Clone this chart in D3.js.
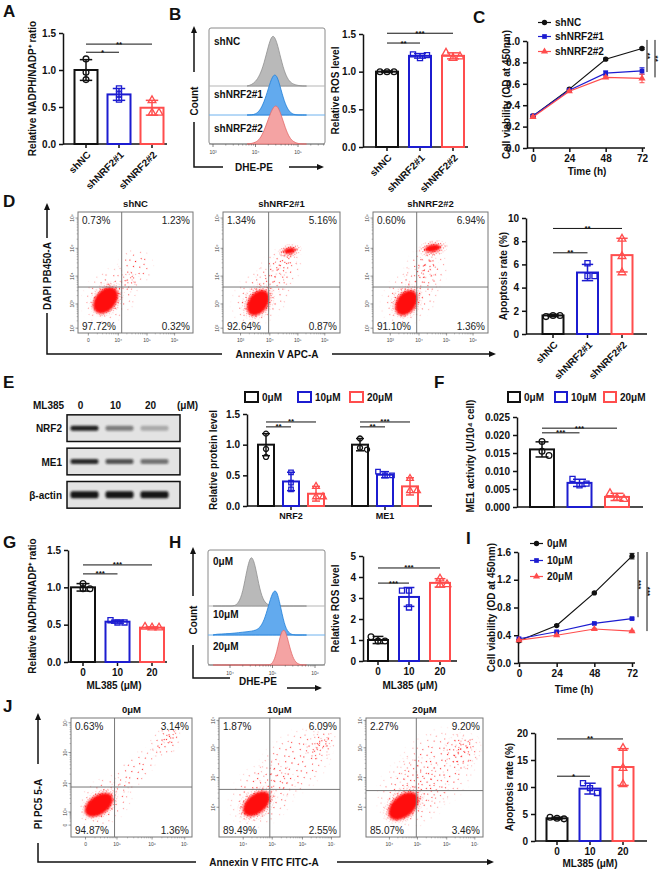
<!DOCTYPE html>
<html>
<head>
<meta charset="utf-8">
<script src="https://cdn.jsdelivr.net/npm/d3@7"></script>
<style>
body { margin: 0; background: #fff; }
</style>
</head>
<body>
<script>
// ---------- data ----------
const shGroups = ["shNC", "shNRF2#1", "shNRF2#2"];
const doseGroups = ["0", "10", "20"];
const doseNames = ["0μM", "10μM", "20μM"];
const timePoints = [0, 24, 48, 72];

// A: NADPH/NADP+ (shRNA)
const nadphShMean = [1.00, 0.67, 0.49];
const nadphShSD = [0.14, 0.08, 0.10];
const nadphShPts = [[1.15, 0.97, 0.87], [0.75, 0.67, 0.60], [0.59, 0.42, 0.42]];

// B: DHE histograms (log decades) + ROS bars
const histBinsB = [3.8, 3.9, 4.0, 4.1, 4.2, 4.3, 4.4, 4.5, 4.6, 4.7, 4.8, 4.9, 5.0, 5.1, 5.2];
const histShNC = [0, 0.02, 0.08, 0.2, 0.42, 0.75, 1.0, 0.85, 0.5, 0.22, 0.08, 0.03, 0.01, 0, 0];
const histSh1 = [0, 0, 0.02, 0.1, 0.3, 0.62, 0.95, 0.98, 0.6, 0.25, 0.07, 0.01, 0, 0, 0];
const histSh2 = [0, 0.01, 0.04, 0.12, 0.32, 0.62, 0.9, 1.0, 0.75, 0.4, 0.15, 0.05, 0.01, 0, 0];
const rosShMean = [1.00, 1.21, 1.21];
const rosShSD = [0.01, 0.03, 0.04];
const rosShPts = [[1.00, 1.00, 1.00], [1.23, 1.18, 1.22], [1.25, 1.18, 1.20]];

// C: viability (shRNA)
const viabShNC = [0.30, 0.55, 0.83, 0.93];
const viabShNCSD = [0.01, 0.01, 0.01, 0.01];
const viabSh1 = [0.30, 0.54, 0.70, 0.72];
const viabSh1SD = [0.01, 0.01, 0.02, 0.03];
const viabSh2 = [0.29, 0.53, 0.66, 0.65];
const viabSh2SD = [0.01, 0.01, 0.01, 0.04];

// D: apoptosis flow (channel units 0-100) + bars
const flowDPercents = [["0.73%", "1.23%", "97.72%", "0.32%"], ["1.34%", "5.16%", "92.64%", "0.87%"], ["0.60%", "6.94%", "91.10%", "1.36%"]];
const flowDGates = [[38, 38], [39, 38], [38, 38]];
// clouds: [x, y, rx, ry, angle, density] density 0 = solid core, 1 dense, 2 medium, 3 sparse
const flowD1 = [[28, 31, 30, 22, 45, 3], [25, 28, 18, 13, 50, 1], [24, 27, 13, 8.5, 50, 0], [50, 55, 17, 16, 45, 3], [44, 42, 11, 9, 45, 2]];
const flowD2 = [[33, 31, 32, 22, 45, 3], [30, 26, 18, 13, 55, 1], [30, 25, 12, 8, 55, 0], [48, 52, 24, 17, 45, 3], [52, 58, 14, 10, 45, 2], [57, 68, 11, 6, 10, 1], [57, 68, 5, 2.5, 10, 0]];
const flowD3 = [[33, 31, 32, 22, 45, 3], [29, 26, 17, 13, 55, 1], [29, 25, 12, 8, 55, 0], [46, 52, 22, 19, 60, 3], [47, 55, 12, 10, 60, 2], [52, 70, 14, 7, 10, 1], [52, 70, 7, 3, 10, 0]];
const apoShMean = [1.6, 5.3, 6.8];
const apoShSD = [0.1, 0.7, 1.45];
const apoShPts = [[1.5, 1.6, 1.6], [6.1, 5.0, 5.0], [8.2, 6.7, 5.3]];

// E: western blot + quantification
const blotProteins = ["NRF2", "ME1", "β-actin"];
const blotNRF2 = [0.95, 0.5, 0.28];
const blotME1 = [0.9, 0.7, 0.55];
const blotActin = [1.0, 1.0, 1.0];
const proteinGroups = ["NRF2", "ME1"];
const protNRF2Mean = [1.00, 0.40, 0.20];
const protNRF2SD = [0.18, 0.15, 0.12];
const protNRF2Pts = [[1.18, 0.93, 0.80], [0.55, 0.38, 0.27], [0.32, 0.15, 0.15]];
const protME1Mean = [1.00, 0.51, 0.32];
const protME1SD = [0.10, 0.05, 0.14];
const protME1Pts = [[1.10, 0.95, 0.92], [0.56, 0.50, 0.50], [0.45, 0.25, 0.25]];

// F: ME1 activity
const me1Mean = [0.0160, 0.0067, 0.0028];
const me1SD = [0.0021, 0.0010, 0.0010];
const me1Pts = [[0.0182, 0.0155, 0.0143], [0.0078, 0.0060, 0.0065], [0.0038, 0.0025, 0.0022]];

// G: NADPH/NADP+ (ML385)
const nadphDoseMean = [1.00, 0.54, 0.46];
const nadphDoseSD = [0.05, 0.02, 0.01];
const nadphDosePts = [[1.05, 0.98, 0.98], [0.56, 0.53, 0.53], [0.47, 0.46, 0.46]];

// H: DHE histograms + ROS bars (ML385)
const histBinsH = [3.6, 3.7, 3.8, 3.9, 4.0, 4.1, 4.2, 4.3, 4.4, 4.5, 4.6, 4.7, 4.8, 4.9, 5.0, 5.1, 5.2, 5.3, 5.4, 5.5, 5.6, 5.7, 5.8];
const hist0 = [0, 0, 0, 0, 0, 0, 0.05, 0.25, 0.7, 1.0, 0.75, 0.3, 0.08, 0.02, 0, 0, 0, 0, 0, 0, 0, 0, 0];
const hist10 = [0, 0.02, 0.02, 0.03, 0.03, 0.04, 0.05, 0.06, 0.07, 0.08, 0.1, 0.15, 0.3, 0.6, 0.92, 0.98, 0.55, 0.15, 0.03, 0, 0, 0, 0];
const hist20 = [0, 0, 0, 0, 0, 0, 0, 0, 0, 0, 0, 0, 0, 0, 0.02, 0.3, 0.85, 0.92, 0.45, 0.12, 0.02, 0, 0];
const rosDoseMean = [1.00, 3.05, 3.72];
const rosDoseSD = [0.17, 0.45, 0.2];
const rosDosePts = [[1.15, 0.95, 0.95], [3.35, 3.35, 2.55], [3.92, 3.62, 3.65]];

// I: viability (ML385)
const viab0 = [0.32, 0.54, 1.01, 1.54];
const viab0SD = [0.02, 0.01, 0.01, 0.04];
const viab10 = [0.35, 0.45, 0.57, 0.64];
const viab10SD = [0.01, 0.01, 0.01, 0.01];
const viab20 = [0.33, 0.40, 0.49, 0.46];
const viab20SD = [0.01, 0.01, 0.01, 0.01];

// J: apoptosis flow + bars (ML385)
const flowJPercents = [["0.63%", "3.14%", "94.87%", "1.36%"], ["1.87%", "6.09%", "89.49%", "2.55%"], ["2.27%", "9.20%", "85.07%", "3.46%"]];
const flowJGates = [[36, 42], [42, 40], [43, 39]];
const flowJ1 = [[28, 30, 28, 20, 40, 3], [24, 28, 18, 12, 35, 1], [23, 27, 13, 8, 35, 0], [52, 55, 28, 12, 45, 3], [78, 80, 16, 12, 40, 2], [82, 84, 8, 6, 40, 2]];
const flowJ2 = [[36, 36, 34, 26, 45, 3], [31, 28, 19, 13, 40, 1], [31, 28, 13, 8, 40, 0], [62, 62, 38, 26, 40, 3], [84, 77, 16, 12, 40, 2], [86, 79, 8, 6, 40, 2]];
const flowJ3 = [[40, 38, 36, 30, 45, 3], [32, 27, 21, 14, 40, 1], [32, 26, 15, 9, 40, 0], [60, 58, 40, 32, 45, 3], [82, 72, 19, 16, 40, 2], [84, 76, 9, 8, 40, 2]];
const apoDoseMean = [4.2, 9.7, 13.7];
const apoDoseSD = [0.2, 1.0, 3.4];
const apoDosePts = [[4.4, 4.2, 4.1], [10.7, 9.8, 8.9], [17.2, 13.5, 10.5]];

// ---------- setup ----------
const FONT = '"Liberation Sans", Arial, Helvetica, sans-serif';
const INK = "#111";
const BLUE = "#1c1cd0";
const RED = "#ff4d4d";
const groupColors = [INK, BLUE, RED];
const groupMarks = ["circle", "square", "triangle"];

const svg = d3.select("body").append("svg")
    .attr("width", 661).attr("height", 873)
    .attr("font-family", FONT);
const defs = svg.append("defs");

// speckle textures for the flow clouds (irregular tiles)
const speckles = [
    null,
    { size: 7, dots: [[0, 0], [3, 1], [5, 0], [1, 3], [4, 4], [6, 3], [2, 5], [5, 6], [0, 6]] },
    { size: 15, dots: [[1, 2], [6, 0], [11, 3], [3, 7], [9, 8], [13, 11], [0, 12], [6, 13], [10, 14], [4, 4]] },
    { size: 19, dots: [[2, 3], [11, 1], [16, 7], [6, 9], [13, 12], [3, 15], [9, 17], [17, 17], [7, 4], [0, 10]] }
];
speckles.forEach((s, i) => {
    if (!s) return;
    const p = defs.append("pattern").attr("id", "speck" + i)
        .attr("patternUnits", "userSpaceOnUse").attr("width", s.size).attr("height", s.size);
    s.dots.forEach(d => p.append("rect").attr("x", d[0]).attr("y", d[1])
        .attr("width", 1.1).attr("height", 1.1).attr("fill", "#ff1a1a"));
});
const fadeGrad = defs.append("radialGradient").attr("id", "fadeGrad");
fadeGrad.append("stop").attr("offset", "0").attr("stop-color", "#fff");
fadeGrad.append("stop").attr("offset", "0.55").attr("stop-color", "#ddd");
fadeGrad.append("stop").attr("offset", "1").attr("stop-color", "#000");
defs.append("mask").attr("id", "fade").attr("maskContentUnits", "objectBoundingBox")
    .append("rect").attr("width", 1).attr("height", 1).attr("fill", "url(#fadeGrad)");
defs.append("filter").attr("id", "soft").attr("x", "-30%").attr("y", "-30%").attr("width", "160%").attr("height", "160%")
    .append("feGaussianBlur").attr("stdDeviation", 1.1);
defs.append("filter").attr("id", "band").attr("x", "-30%").attr("y", "-100%").attr("width", "160%").attr("height", "300%")
    .append("feGaussianBlur").attr("stdDeviation", 1.1);

function symbolPath(type, area) {
    const t = { circle: d3.symbolCircle, square: d3.symbolSquare, triangle: d3.symbolTriangle }[type];
    return d3.symbol().type(t).size(area)();
}

function styleAxis(a) {
    a.attr("font-family", FONT).attr("font-size", 10).attr("font-weight", "bold");
    a.select(".domain").attr("stroke", INK).attr("stroke-width", 1.5);
    a.selectAll(".tick line").attr("stroke", INK).attr("stroke-width", 1.5);
    a.selectAll(".tick text").attr("fill", INK);
}

function errBar(g, x, y1, y2, half, col, w) {
    g.append("line").attr("x1", x).attr("x2", x).attr("y1", y1).attr("y2", y2).attr("stroke", col).attr("stroke-width", w);
    [y1, y2].forEach(yy => g.append("line").attr("x1", x - half).attr("x2", x + half)
        .attr("y1", yy).attr("y2", yy).attr("stroke", col).attr("stroke-width", w));
}

function sigText(g, x, y, lab) {
    g.append("text").attr("x", x).attr("y", y + 2.5).attr("text-anchor", "middle")
        .attr("font-size", 8).attr("font-weight", "bold").attr("fill", INK).text(lab);
}

function yLabel(g, x, y, txt, fs) {
    g.append("text").attr("transform", `translate(${x},${y}) rotate(-90)`)
        .attr("text-anchor", "middle").attr("font-size", fs || 10).attr("font-weight", "bold")
        .attr("fill", INK).text(txt);
}

function boldText(x, y, txt, fs, anchor) {
    return svg.append("text").attr("x", x).attr("y", y).attr("font-size", fs || 10)
        .attr("font-weight", "bold").attr("fill", INK).attr("text-anchor", anchor || "start").text(txt);
}

function dots(g, cx, vals, y, i, area) {
    const py = vals.map(v => y(v));
    py.forEach((p, j) => {
        const crowded = py.some((q, k) => k !== j && Math.abs(q - p) < 5);
        const dx = crowded ? (j - 1) * 7 : 0;
        g.append("path").attr("d", symbolPath(groupMarks[i], area || 26))
            .attr("transform", `translate(${cx + dx},${p})`)
            .attr("fill", "none").attr("stroke", groupColors[i]).attr("stroke-width", 1.3);
    });
}

// ---------- bar chart ----------
function barChart(o) {
    const g = svg.append("g");
    const y = d3.scaleLinear().domain(o.yDomain).range([o.yBottom, o.yTop]);
    const n = o.cats.length;
    const step = (o.c1 - o.c0) / (n - 1);
    const pad = 1 - o.barW / step;
    const x = d3.scaleBand().domain(o.cats).range([o.c0 - step / 2, o.c1 + step / 2])
        .paddingInner(pad).paddingOuter(pad / 2);
    const cx = c => x(c) + x.bandwidth() / 2;

    const ya = g.append("g").attr("transform", `translate(${o.axisX0},0)`)
        .call(d3.axisLeft(y).tickValues(o.ticks).tickFormat(o.fmt).tickSize(4).tickSizeOuter(0));
    styleAxis(ya);

    const xa = g.append("g").attr("transform", `translate(0,${o.yBottom})`)
        .call(d3.axisBottom(x).tickSize(o.noXTicks ? 0 : 4).tickSizeOuter(0));
    styleAxis(xa);
    xa.select(".domain").attr("d", `M${o.axisX0},0H${o.axisX1}`);
    if (o.noXTicks) xa.selectAll(".tick").remove();
    if (o.rotate) {
        xa.selectAll(".tick text").attr("x", 0).attr("y", 0).attr("dy", "0.35em")
            .attr("transform", "translate(3,9) rotate(-45)").attr("text-anchor", "end");
    }

    o.cats.forEach((c, i) => {
        const col = groupColors[i];
        const m = o.mean[i], s = o.sd[i];
        g.append("rect").attr("x", x(c)).attr("y", y(m)).attr("width", x.bandwidth())
            .attr("height", y(0) - y(m)).attr("fill", "none").attr("stroke", col).attr("stroke-width", 2);
        errBar(g, cx(c), y(m - s), y(m + s), x.bandwidth() * 0.27, col, 1.5);
        dots(g, cx(c), o.pts[i], y, i);
    });

    (o.sig || []).forEach(([a, b, v, lab]) => {
        const yy = y(v);
        g.append("line").attr("x1", cx(o.cats[a])).attr("x2", cx(o.cats[b]))
            .attr("y1", yy).attr("y2", yy).attr("stroke", INK).attr("stroke-width", 1);
        sigText(g, (cx(o.cats[a]) + cx(o.cats[b])) / 2, yy, lab);
    });

    yLabel(g, o.ylabelX, o.ylabelY || (o.yBottom + o.yTop) / 2, o.ylabel, o.ylabelSize);
    if (o.xlabel) {
        g.append("text").attr("x", o.xlabelX).attr("y", o.xlabelY).attr("text-anchor", "middle")
            .attr("font-size", 10).attr("font-weight", "bold").attr("fill", INK).text(o.xlabel);
    }
    return g;
}

// ---------- line chart ----------
function lineChart(o) {
    const g = svg.append("g");
    const x = d3.scaleLinear().domain([0, 72]).range(o.xRange);
    const y = d3.scaleLinear().domain(o.yDomain).range(o.yRange);
    const ya = g.append("g").attr("transform", `translate(${o.axisX0},0)`)
        .call(d3.axisLeft(y).tickValues(o.ticks).tickFormat(d3.format(".1f")).tickSize(4).tickSizeOuter(0));
    styleAxis(ya);
    const xa = g.append("g").attr("transform", `translate(0,${o.yRange[0]})`)
        .call(d3.axisBottom(x).tickValues(timePoints).tickSize(4).tickSizeOuter(0));
    styleAxis(xa);
    xa.select(".domain").attr("d", `M${o.axisX0},0H${o.axisX1}`);

    o.series.forEach((s, i) => {
        const col = groupColors[i];
        const pts = timePoints.map((t, j) => [x(t), y(s.v[j])]);
        g.append("path").attr("d", d3.line()(pts)).attr("fill", "none").attr("stroke", col).attr("stroke-width", 1.2);
        timePoints.forEach((t, j) => errBar(g, x(t), y(s.v[j] - s.e[j]), y(s.v[j] + s.e[j]), 2.5, col, 1));
        pts.forEach(p => g.append("path").attr("d", symbolPath(groupMarks[i], 22))
            .attr("transform", `translate(${p[0]},${p[1]})`).attr("fill", col));
        // legend
        const ly = o.legendY[i];
        g.append("line").attr("x1", o.legendX).attr("x2", o.legendX + 13).attr("y1", ly - 3.5).attr("y2", ly - 3.5)
            .attr("stroke", col).attr("stroke-width", 1.2);
        g.append("path").attr("d", symbolPath(groupMarks[i], 22))
            .attr("transform", `translate(${o.legendX + 6.5},${ly - 3.5})`).attr("fill", col);
        g.append("text").attr("x", o.legendX + 17).attr("y", ly).attr("font-size", 10)
            .attr("font-weight", "bold").attr("fill", INK).text(s.name);
    });

    o.sig.forEach(([lx, v1, v2, lab]) => {
        g.append("line").attr("x1", lx).attr("x2", lx).attr("y1", y(v1)).attr("y2", y(v2))
            .attr("stroke", INK).attr("stroke-width", 1);
        g.append("text").attr("transform", `translate(${lx - 2.5},${(y(v1) + y(v2)) / 2}) rotate(90)`)
            .attr("text-anchor", "middle").attr("font-size", 8).attr("font-weight", "bold").attr("fill", INK).text(lab);
    });

    yLabel(g, o.ylabelX, (o.yRange[0] + o.yRange[1]) / 2, "Cell viability (OD at 450nm)");
    g.append("text").attr("x", o.xlabelX).attr("y", o.xlabelY).attr("text-anchor", "middle")
        .attr("font-size", 10).attr("font-weight", "bold").attr("fill", INK).text("Time (h)");
}

// ---------- histogram overlay ----------
function histPanel(o) {
    const g = svg.append("g");
    const [bx0, by0, bx1, by1] = o.box;
    const x = d3.scaleLinear().domain(o.xDomain).range(o.xRange);
    g.append("rect").attr("x", bx0).attr("y", by0).attr("width", bx1 - bx0).attr("height", by1 - by0)
        .attr("rx", 2).attr("fill", "none").attr("stroke", "#8a8a8a").attr("stroke-width", 1);
    o.curves.forEach(c => {
        const y = d3.scaleLinear().domain([0, 1]).range([c.base, c.base - c.h]);
        const area = d3.area().x((d, i) => x(o.bins[i])).y0(c.base).y1(d => y(d)).curve(d3.curveBasis);
        g.append("line").attr("x1", bx0).attr("x2", bx1).attr("y1", c.base).attr("y2", c.base)
            .attr("stroke", c.line).attr("stroke-width", 1);
        g.append("path").datum(c.vals).attr("d", area).attr("fill", c.fill)
            .attr("stroke", c.stroke).attr("stroke-width", 0.8);
    });
    o.curves.forEach(c => {
        g.append("text").attr("x", bx0 + 5).attr("y", c.labelY).attr("font-size", 10)
            .attr("font-weight", "bold").attr("fill", INK).text(c.label);
    });
    // log ticks on bottom edge
    o.ticks.forEach(t => {
        g.append("line").attr("x1", x(t[0])).attr("x2", x(t[0])).attr("y1", by1).attr("y2", by1 + 3)
            .attr("stroke", "#555").attr("stroke-width", 0.7);
        g.append("text").attr("x", x(t[0])).attr("y", by1 + 9.5).attr("text-anchor", "middle")
            .attr("font-size", 5).attr("fill", "#444").text(t[1]);
        for (let m = 2; m < 10; m++) {
            const xm = x(t[0] + Math.log10(m));
            if (xm < bx1) g.append("line").attr("x1", xm).attr("x2", xm).attr("y1", by1).attr("y2", by1 + 1.6)
                .attr("stroke", "#555").attr("stroke-width", 0.5);
        }
    });
    // axis arrows
    const a = o.arrows;
    arrowUp(g, a.vx, a.vTop, a.vStop);
    yLabel(g, a.vx + 4, a.countY, "Count");
    g.append("path").attr("d", `M${a.vx},${a.vResume}V${a.hy}H${a.hEnd1}`).attr("fill", "none")
        .attr("stroke", INK).attr("stroke-width", 1.5);
    g.append("text").attr("x", a.txtX).attr("y", a.txtY).attr("text-anchor", "middle").attr("font-size", 10)
        .attr("font-weight", "bold").attr("fill", INK).text("DHE-PE");
    arrowRight(g, a.aStart, a.aEnd, a.ay);
}

function arrowUp(g, x, yTop, yBottom) {
    g.append("line").attr("x1", x).attr("x2", x).attr("y1", yTop + 5).attr("y2", yBottom)
        .attr("stroke", INK).attr("stroke-width", 1.5);
    g.append("path").attr("d", `M${x - 3},${yTop + 7}L${x},${yTop}L${x + 3},${yTop + 7}Z`).attr("fill", INK);
}
function arrowRight(g, x0, x1, y) {
    g.append("line").attr("x1", x0).attr("x2", x1 - 5).attr("y1", y).attr("y2", y)
        .attr("stroke", INK).attr("stroke-width", 1.5);
    g.append("path").attr("d", `M${x1 - 7},${y - 3}L${x1},${y}L${x1 - 7},${y + 3}Z`).attr("fill", INK);
}

// ---------- flow cytometry dot plot ----------
let clipCount = 0;
function flowPlot(o) {
    const g = svg.append("g");
    const x = d3.scaleLinear().domain([0, 100]).range([o.x0, o.x1]);
    const y = d3.scaleLinear().domain([0, 100]).range([o.y1, o.y0]);
    const cid = "clip" + (clipCount++);
    defs.append("clipPath").attr("id", cid).append("rect")
        .attr("x", o.x0).attr("y", o.y0).attr("width", o.x1 - o.x0).attr("height", o.y1 - o.y0);
    const gc = g.append("g").attr("clip-path", `url(#${cid})`);
    [3, 2, 1, 0].forEach(level => {
        o.clouds.filter(r => r[5] === level).forEach(r => {
            const [cx, cy, rx, ry, ang] = r;
            const e = gc.append("ellipse").attr("cx", 0).attr("cy", 0)
                .attr("rx", x(rx) - x(0)).attr("ry", y(0) - y(ry))
                .attr("transform", `translate(${x(cx)},${y(cy)}) rotate(${-ang})`);
            if (level === 0) e.attr("fill", "#ff0a0a").attr("filter", "url(#soft)");
            else e.attr("fill", `url(#speck${level})`).attr("mask", "url(#fade)");
        });
    });
    // gates
    g.append("line").attr("x1", x(o.gate[0])).attr("x2", x(o.gate[0])).attr("y1", o.y0).attr("y2", o.y1)
        .attr("stroke", "#777").attr("stroke-width", 1);
    g.append("line").attr("x1", o.x0).attr("x2", o.x1).attr("y1", y(o.gate[1])).attr("y2", y(o.gate[1]))
        .attr("stroke", "#777").attr("stroke-width", 1);
    g.append("rect").attr("x", o.x0).attr("y", o.y0).attr("width", o.x1 - o.x0).attr("height", o.y1 - o.y0)
        .attr("fill", "none").attr("stroke", "#777").attr("stroke-width", 1);
    // quadrant percentages: UL, UR, LL, LR
    const pct = o.percents;
    const pt = (xx, yy, t, anc) => g.append("text").attr("x", xx).attr("y", yy).attr("font-size", 10)
        .attr("fill", "#222").attr("text-anchor", anc).text(t);
    pt(o.x0 + 4, o.y0 + 12, pct[0], "start");
    pt(o.x1 - 3, o.y0 + 12, pct[1], "end");
    pt(o.x0 + 4, o.y1 - 3, pct[2], "start");
    pt(o.x1 - 3, o.y1 - 3, pct[3], "end");
    // title
    g.append("text").attr("x", (o.x0 + o.x1) / 2).attr("y", o.titleY).attr("text-anchor", "middle")
        .attr("font-size", 9.5).attr("font-weight", "bold").attr("fill", INK).text(o.title);
    // axis ticks
    const minor = (ticks, fn) => {
        for (let k = 0; k < ticks.length - 1; k++) {
            const a = ticks[k][0], b = ticks[k + 1][0];
            for (let m = 2; m < 10; m++) fn(a + (b - a) * Math.log10(m));
        }
    };
    o.xTicks.forEach(t => {
        g.append("line").attr("x1", x(t[0])).attr("x2", x(t[0])).attr("y1", o.y1).attr("y2", o.y1 + 2.5)
            .attr("stroke", "#555").attr("stroke-width", 0.6);
        g.append("text").attr("x", x(t[0])).attr("y", o.y1 + 9).attr("text-anchor", "middle")
            .attr("font-size", 5).attr("fill", "#444").text(t[1]);
    });
    minor(o.xTicks, v => g.append("line").attr("x1", x(v)).attr("x2", x(v)).attr("y1", o.y1).attr("y2", o.y1 + 1.4)
        .attr("stroke", "#666").attr("stroke-width", 0.4));
    o.yTicks.forEach(t => {
        g.append("line").attr("x1", o.x0 - 2.5).attr("x2", o.x0).attr("y1", y(t[0])).attr("y2", y(t[0]))
            .attr("stroke", "#555").attr("stroke-width", 0.6);
        g.append("text").attr("transform", `translate(${o.x0 - 4},${y(t[0])}) rotate(-90)`)
            .attr("text-anchor", "middle").attr("font-size", 5).attr("fill", "#444").text(t[1]);
    });
    minor(o.yTicks, v => g.append("line").attr("x1", o.x0 - 1.4).attr("x2", o.x0).attr("y1", y(v)).attr("y2", y(v))
        .attr("stroke", "#666").attr("stroke-width", 0.4));
}

function flowFrame(f) {
    const g = svg.append("g");
    arrowUp(g, f.vx, f.vTop, f.vStop);
    yLabel(g, f.vx + 4, f.labelY, f.ylabel);
    g.append("path").attr("d", `M${f.vx},${f.vResume}V${f.hy}H${f.h1}`).attr("fill", "none")
        .attr("stroke", INK).attr("stroke-width", 1.5);
    g.append("text").attr("x", f.txtX).attr("y", f.hy + 4).attr("text-anchor", "middle").attr("font-size", 10)
        .attr("font-weight", "bold").attr("fill", INK).text(f.xlabel);
    arrowRight(g, f.h2, f.hEnd, f.hy);
}

// ---------- panel letters ----------
[["A", 3, 17], ["B", 169, 20], ["C", 473, 23], ["D", 3, 207], ["E", 3, 388], ["F", 434, 388],
 ["G", 3, 548], ["H", 169, 548], ["I", 466, 544], ["J", 3, 712]].forEach(([t, x, y]) => boldText(x, y, t, 17));

// ---------- A ----------
barChart({
    cats: shGroups, mean: nadphShMean, sd: nadphShSD, pts: nadphShPts,
    c0: 86, c1: 152, barW: 23, axisX0: 63, axisX1: 167,
    yDomain: [0, 1.5], yBottom: 144, yTop: 33, ticks: [0, 0.5, 1.0, 1.5], fmt: d3.format(".1f"),
    rotate: true, sig: [[0, 1, 1.24, "*"], [0, 2, 1.35, "**"]],
    ylabel: "Relative NADPH/NADP⁺ ratio", ylabelX: 36
});

// ---------- B ----------
histPanel({
    box: [209, 28, 325, 144], xDomain: [3, 5], xRange: [213, 298], bins: histBinsB,
    curves: [
        { vals: histShNC, base: 86, h: 53, fill: "#b9b9b9", stroke: "#8f8f8f", line: "#b5b5b5", label: "shNC", labelY: 45 },
        { vals: histSh1, base: 115, h: 42, fill: "#62aaee", stroke: "#1f7fd8", line: "#6fb2ee", label: "shNRF2#1", labelY: 98 },
        { vals: histSh2, base: 144, h: 40, fill: "#f4a3a3", stroke: "#e36a6a", line: "#888", label: "shNRF2#2", labelY: 132 }
    ],
    ticks: [[3, "10³"], [4, "10⁴"], [5, "10⁵"]],
    arrows: { vx: 194, vTop: 26, vStop: 72, countY: 101, vResume: 122, hy: 167, hEnd1: 223, txtX: 254, txtY: 171, aStart: 289, aEnd: 324, ay: 167 }
});
barChart({
    cats: shGroups, mean: rosShMean, sd: rosShSD, pts: rosShPts,
    c0: 387, c1: 453, barW: 22, axisX0: 363, axisX1: 468,
    yDomain: [0, 1.5], yBottom: 147, yTop: 34, ticks: [0, 0.5, 1.0, 1.5], fmt: d3.format(".1f"),
    rotate: true, sig: [[0, 1, 1.38, "**"], [0, 2, 1.51, "***"]],
    ylabel: "Relative ROS level", ylabelX: 339
});

// ---------- C ----------
lineChart({
    xRange: [533, 642], axisX0: 527, axisX1: 645, yDomain: [0, 1.0], yRange: [148, 41],
    ticks: [0, 0.2, 0.4, 0.6, 0.8, 1.0],
    series: [
        { v: viabShNC, e: viabShNCSD, name: "shNC" },
        { v: viabSh1, e: viabSh1SD, name: "shNRF2#1" },
        { v: viabSh2, e: viabSh2SD, name: "shNRF2#2" }
    ],
    legendX: 538, legendY: [26, 40, 55],
    sig: [[647, 1.01, 0.71, "**"], [655, 1.01, 0.66, "**"]],
    ylabelX: 510, xlabelX: 587, xlabelY: 175
});

// ---------- D ----------
const flowDXTicks0 = [[9, "0"], [35, "10⁴"], [60, "10⁵"], [84, "10⁶"]];
const flowDXTicks = [[15, "10³"], [40, "10⁴"], [64, "10⁵"], [87, "10⁶"]];
const flowDYTicks = [[4, "10²"], [24, "10³"], [47, "10⁴"], [70, "10⁵"], [95, "10⁶"]];
const boxesD = [[78, 193], [223, 340], [373, 488]];
[flowD1, flowD2, flowD3].forEach((clouds, i) => flowPlot({
    x0: boxesD[i][0], x1: boxesD[i][1], y0: 212, y1: 333, titleY: 207, title: shGroups[i],
    clouds, gate: flowDGates[i], percents: flowDPercents[i],
    xTicks: i === 0 ? flowDXTicks0 : flowDXTicks, yTicks: flowDYTicks
}));
flowFrame({ vx: 47, vTop: 203, vStop: 238, labelY: 276, ylabel: "DAPI PB450-A", vResume: 313, hy: 354, h1: 222,
    txtX: 277, xlabel: "Annexin V APC-A", h2: 332, hEnd: 496 });
barChart({
    cats: shGroups, mean: apoShMean, sd: apoShSD, pts: apoShPts,
    c0: 553, c1: 622, barW: 21, axisX0: 526, axisX1: 647,
    yDomain: [0, 10], yBottom: 334, yTop: 218, ticks: [0, 2, 4, 6, 8, 10], fmt: d3.format("d"),
    rotate: true, sig: [[0, 1, 7.0, "**"], [0, 2, 9.1, "**"]],
    ylabel: "Apoptosis rate (%)", ylabelX: 507
});

// ---------- E: blot ----------
(function () {
    const g = svg.append("g");
    const lane = d3.scaleBand().domain(doseGroups).range([67, 172]);
    const row = d3.scaleBand().domain(blotProteins).range([411.5, 511.5]).paddingInner(0.2).paddingOuter(0.1);
    boldText(33, 409, "ML385", 10);
    doseGroups.forEach(d => boldText(lane(d) + lane.bandwidth() / 2 - 4, 409, d, 10, "middle"));
    boldText(177, 409, "(μM)", 10);
    [blotNRF2, blotME1, blotActin].forEach((vals, r) => {
        const p = blotProteins[r];
        g.append("rect").attr("x", 67).attr("y", row(p)).attr("width", 113).attr("height", row.bandwidth())
            .attr("fill", "#e3e3e3").attr("stroke", INK).attr("stroke-width", 1.5);
        vals.forEach((v, j) => {
            const cx = lane(doseGroups[j]) + lane.bandwidth() / 2;
            g.append("rect").attr("x", cx - 14).attr("y", row(p) + row.bandwidth() / 2 - (r === 2 ? 3.5 : 2.5))
                .attr("width", 28).attr("height", r === 2 ? 7 : 5).attr("rx", 2)
                .attr("fill", "#151515").attr("opacity", v).attr("filter", "url(#band)");
        });
        boldText(62, row(p) + row.bandwidth() / 2 + 4, p, 10, "end");
    });
})();

// ---------- E: quantification ----------
(function () {
    const g = svg.append("g");
    const y = d3.scaleLinear().domain([0, 1.5]).range([506, 414]);
    const outer = d3.scaleBand().domain(proteinGroups).range([244, 432]).paddingInner(1 - 75 / 94).paddingOuter((1 - 75 / 94) / 2);
    const inner = d3.scaleBand().domain(doseGroups).range([0, 75]).paddingInner(0.36).paddingOuter(0.18);
    const ya = g.append("g").attr("transform", "translate(247,0)")
        .call(d3.axisLeft(y).tickValues([0, 0.5, 1.0, 1.5]).tickFormat(d3.format(".1f")).tickSize(4).tickSizeOuter(0));
    styleAxis(ya);
    const xa = g.append("g").attr("transform", "translate(0,506)")
        .call(d3.axisBottom(outer).tickSize(4).tickSizeOuter(0));
    styleAxis(xa);
    xa.select(".domain").attr("d", "M247,0H432");
    xa.selectAll(".tick text").attr("font-size", 9);
    const groups = [[protNRF2Mean, protNRF2SD, protNRF2Pts, [[0, 1, 1.29, "**"], [0, 2, 1.37, "**"]]],
                    [protME1Mean, protME1SD, protME1Pts, [[0, 1, 1.29, "**"], [0, 2, 1.37, "***"]]]];
    groups.forEach(([mean, sd, pts, sig], gi) => {
        const base = outer(proteinGroups[gi]);
        const cx = d => base + inner(d) + inner.bandwidth() / 2;
        doseGroups.forEach((d, i) => {
            const col = groupColors[i];
            g.append("rect").attr("x", base + inner(d)).attr("y", y(mean[i])).attr("width", inner.bandwidth())
                .attr("height", y(0) - y(mean[i])).attr("fill", "none").attr("stroke", col).attr("stroke-width", 2);
            errBar(g, cx(d), y(mean[i] - sd[i]), y(mean[i] + sd[i]), 4, col, 1.5);
            dots(g, cx(d), pts[i], y, i, 20);
        });
        sig.forEach(([a, b, v, lab]) => {
            g.append("line").attr("x1", cx(doseGroups[a])).attr("x2", cx(doseGroups[b]))
                .attr("y1", y(v)).attr("y2", y(v)).attr("stroke", INK).attr("stroke-width", 1);
            sigText(g, (cx(doseGroups[a]) + cx(doseGroups[b])) / 2, y(v), lab);
        });
    });
    yLabel(g, 217, 460, "Relative protein level");
    // legend
    [245, 298, 350].forEach((lx, i) => {
        g.append("rect").attr("x", lx).attr("y", 392).attr("width", 13).attr("height", 10)
            .attr("fill", "none").attr("stroke", groupColors[i]).attr("stroke-width", 2);
        boldText(lx + 17, 401, doseNames[i], 10);
    });
})();

// ---------- F ----------
barChart({
    cats: doseGroups, mean: me1Mean, sd: me1SD, pts: me1Pts,
    c0: 542, c1: 617, barW: 24, axisX0: 517, axisX1: 643,
    yDomain: [0, 0.025], yBottom: 507, yTop: 417, ticks: [0, 0.005, 0.010, 0.015, 0.020, 0.025], fmt: d3.format(".3f"),
    noXTicks: true, sig: [[0, 1, 0.0206, "***"], [0, 2, 0.0219, "***"]],
    ylabel: "ME1 activity (U/10⁴ cell)", ylabelX: 474, ylabelY: 456
});
[508, 555, 604].forEach((lx, i) => {
    svg.append("rect").attr("x", lx).attr("y", 392).attr("width", 12).attr("height", 10)
        .attr("fill", "none").attr("stroke", groupColors[i]).attr("stroke-width", 2);
    boldText(lx + 16, 401, doseNames[i], 10);
});

// ---------- G ----------
barChart({
    cats: doseGroups, mean: nadphDoseMean, sd: nadphDoseSD, pts: nadphDosePts,
    c0: 83, c1: 152, barW: 24, axisX0: 68, axisX1: 167,
    yDomain: [0, 1.5], yBottom: 662, yTop: 550, ticks: [0, 0.5, 1.0, 1.5], fmt: d3.format(".1f"),
    sig: [[0, 1, 1.18, "***"], [0, 2, 1.30, "***"]],
    ylabel: "Relative NADPH/NADP⁺ ratio", ylabelX: 36,
    xlabel: "ML385 (μM)", xlabelX: 114, xlabelY: 689
});

// ---------- H ----------
histPanel({
    box: [208, 550, 325, 665], xDomain: [4, 6], xRange: [230, 315], bins: histBinsH,
    curves: [
        { vals: hist0, base: 606, h: 53, fill: "#b9b9b9", stroke: "#8f8f8f", line: "#b5b5b5", label: "0μM", labelY: 565 },
        { vals: hist10, base: 635, h: 47, fill: "#62aaee", stroke: "#1f7fd8", line: "#6fb2ee", label: "10μM", labelY: 618 },
        { vals: hist20, base: 665, h: 40, fill: "#f4a3a3", stroke: "#e36a6a", line: "#888", label: "20μM", labelY: 650 }
    ],
    ticks: [[4, "10⁴"], [5, "10⁵"], [6, "10⁶"]],
    arrows: { vx: 193, vTop: 547, vStop: 596, countY: 620, vResume: 645, hy: 678, hEnd1: 230, txtX: 258, txtY: 685, aStart: 287, aEnd: 322, ay: 688 }
});
barChart({
    cats: doseGroups, mean: rosDoseMean, sd: rosDoseSD, pts: rosDosePts,
    c0: 378, c1: 440, barW: 20, axisX0: 363, axisX1: 457,
    yDomain: [0, 5], yBottom: 661, yTop: 556, ticks: [0, 1, 2, 3, 4, 5], fmt: d3.format("d"),
    sig: [[0, 1, 3.71, "***"], [0, 2, 4.43, "***"]],
    ylabel: "Relative ROS level", ylabelX: 339,
    xlabel: "ML385 (μM)", xlabelX: 410, xlabelY: 689
});

// ---------- I ----------
lineChart({
    xRange: [519, 632], axisX0: 518, axisX1: 635, yDomain: [0, 1.6], yRange: [663, 552],
    ticks: [0, 0.4, 0.8, 1.2, 1.6],
    series: [
        { v: viab0, e: viab0SD, name: "0μM" },
        { v: viab10, e: viab10SD, name: "10μM" },
        { v: viab20, e: viab20SD, name: "20μM" }
    ],
    legendX: 530, legendY: [547, 564, 580],
    sig: [[638, 1.6, 0.66, "***"], [647, 1.6, 0.46, "***"]],
    ylabelX: 495, xlabelX: 574, xlabelY: 693
});

// ---------- J ----------
const flowJXTicks0 = [[12, "0"], [38, "10⁵"], [67, "10⁶"], [94, "10⁷"]];
const flowJXTicks = [[20, "10⁴"], [44, "10⁵"], [69, "10⁶"], [93, "10⁷"]];
const flowJYTicks0 = [[10, "0"], [21, "10⁴"], [45, "10⁵"], [71, "10⁶"], [96, "10⁷"]];
const flowJYTicks = [[25, "10⁴"], [50, "10⁵"], [75, "10⁶"], [98, "10⁷"]];
const boxesJ = [[71, 192], [219, 340], [366, 483]];
[flowJ1, flowJ2, flowJ3].forEach((clouds, i) => flowPlot({
    x0: boxesJ[i][0], x1: boxesJ[i][1], y0: 718, y1: 837, titleY: 713, title: doseNames[i],
    clouds, gate: flowJGates[i], percents: flowJPercents[i],
    xTicks: i === 0 ? flowJXTicks0 : flowJXTicks, yTicks: i === 0 ? flowJYTicks0 : flowJYTicks
}));
flowFrame({ vx: 38, vTop: 713, vStop: 764, labelY: 804, ylabel: "PI PC5 5-A", vResume: 843, hy: 862, h1: 196,
    txtX: 264, xlabel: "Annexin V FITC FITC-A", h2: 337, hEnd: 494 });
barChart({
    cats: doseGroups, mean: apoDoseMean, sd: apoDoseSD, pts: apoDosePts,
    c0: 557, c1: 623, barW: 21, axisX0: 535, axisX1: 647,
    yDomain: [0, 20], yBottom: 841, yTop: 733, ticks: [0, 5, 10, 15, 20], fmt: d3.format("d"),
    sig: [[0, 1, 12.0, "*"], [0, 2, 18.9, "**"]],
    ylabel: "Apoptosis rate (%)", ylabelX: 513,
    xlabel: "ML385 (μM)", xlabelX: 590, xlabelY: 867
});
</script>
</body>
</html>
